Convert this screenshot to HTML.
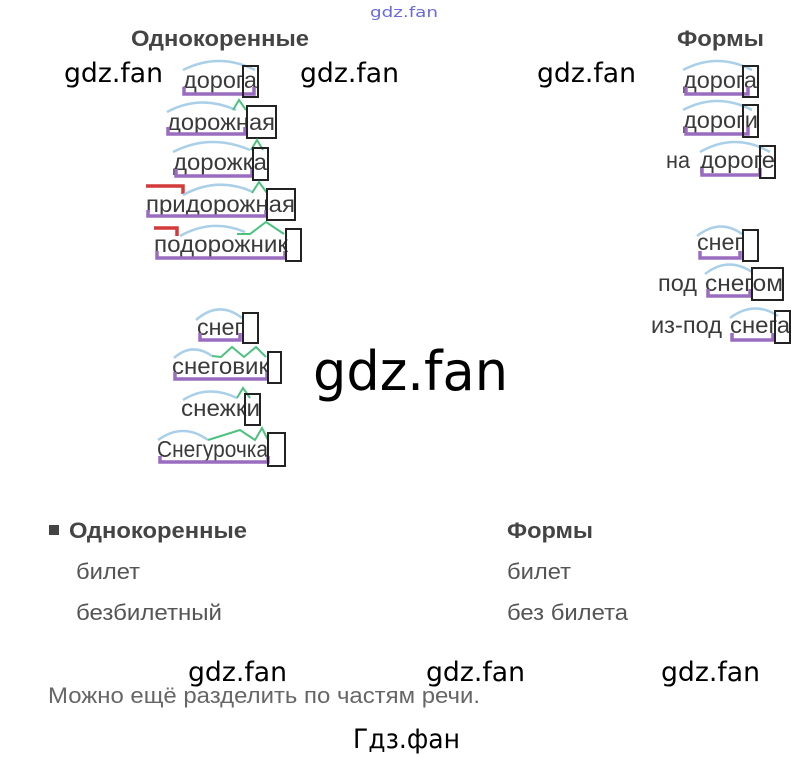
<!DOCTYPE html>
<html><head><meta charset="utf-8"><style>
html,body{margin:0;padding:0;background:#fff;}
svg{display:block}
.w{font-family:"Liberation Sans",sans-serif;font-size:23px;fill:#3a3a3a}
.h{font-family:"Liberation Sans",sans-serif;font-size:22px;font-weight:bold;fill:#444}
.t{font-family:"Liberation Sans",sans-serif;font-size:22px;fill:#555}
.g{font-family:"DejaVu Sans",sans-serif;font-size:27px;fill:#000}
.arc{fill:none;stroke:#a9cfe9;stroke-width:2.5}
.pu{fill:none;stroke:#9a6cbf;stroke-width:3.5}
.gr{fill:none;stroke:#4dc27f;stroke-width:2}
.bx{fill:none;stroke:#222;stroke-width:2}
.rd{fill:none;stroke:#d43a3a;stroke-width:3.5}
</style></head><body>
<svg width="807" height="757" viewBox="0 0 807 757" xmlns="http://www.w3.org/2000/svg">
<text x="370" y="17" style="font-family:'DejaVu Sans',sans-serif;font-size:14px;fill:#6a6ae0" textLength="68" lengthAdjust="spacingAndGlyphs">gdz.fan</text>
<text class="h" x="131" y="46" textLength="178" lengthAdjust="spacingAndGlyphs">Однокоренные</text>
<text class="h" x="677" y="46" textLength="87" lengthAdjust="spacingAndGlyphs">Формы</text>
<text class="g" x="64" y="82" textLength="99" lengthAdjust="spacingAndGlyphs">gdz.fan</text>
<text class="g" x="300" y="82" textLength="99" lengthAdjust="spacingAndGlyphs">gdz.fan</text>
<text class="g" x="537" y="82" textLength="99" lengthAdjust="spacingAndGlyphs">gdz.fan</text>

<!-- left column -->
<path class="arc" d="M183,70 Q219,52 255,70"/>
<text class="w" x="183" y="88" textLength="74" lengthAdjust="spacingAndGlyphs">дорога</text>
<path class="pu" d="M184,87 V94 H254 V87"/>
<rect class="bx" x="243" y="66" width="15" height="31"/>

<path class="arc" d="M167,112 Q200,94 236,110"/>
<path class="gr" d="M233,110 L239,100 L246,110"/>
<text class="w" x="167" y="130" textLength="108" lengthAdjust="spacingAndGlyphs">дорожная</text>
<path class="pu" d="M168,127 V134 H245 V127"/>
<rect class="bx" x="247" y="106" width="29" height="32"/>

<path class="arc" d="M173,152 Q210,133 250,150"/>
<path class="gr" d="M251,150 L257,140 L263,150"/>
<text class="w" x="173" y="170" textLength="94" lengthAdjust="spacingAndGlyphs">дорожка</text>
<path class="pu" d="M176,169 V176 H252 V169"/>
<rect class="bx" x="253" y="148" width="15" height="32"/>

<path class="rd" d="M146,186 H183 V194"/>
<path class="arc" d="M183,195 Q218,176 253,192"/>
<path class="gr" d="M252,193 L259,182 L267,193"/>
<text class="w" x="146" y="212" textLength="149" lengthAdjust="spacingAndGlyphs">придорожная</text>
<path class="pu" d="M148,210 V216 H266 V210"/>
<rect class="bx" x="267" y="189" width="28" height="31"/>

<path class="rd" d="M154,228 H177 V236"/>
<path class="arc" d="M180,236 Q212,218 245,232"/>
<path class="gr" d="M237,234 L250,234 L266,222 L284,234"/>
<text class="w" x="154" y="252" textLength="134" lengthAdjust="spacingAndGlyphs">подорожник</text>
<path class="pu" d="M157,251 V258 H285 V251"/>
<rect class="bx" x="286" y="229" width="15" height="32"/>

<path class="arc" d="M196,320 Q219,300 242,318"/>
<text class="w" x="197" y="335" textLength="46" lengthAdjust="spacingAndGlyphs">снег</text>
<path class="pu" d="M200,333 V340 H240 V333"/>
<rect class="bx" x="243" y="313" width="15" height="30"/>

<path class="arc" d="M174,358 Q192,342 212,356"/>
<path class="gr" d="M212,356 L221,357 L232,347 L244,357 L256,347 L266,357"/>
<text class="w" x="172" y="374" textLength="97" lengthAdjust="spacingAndGlyphs">снеговик</text>
<path class="pu" d="M175,372 V379 H267 V372"/>
<rect class="bx" x="268" y="352" width="13" height="31"/>

<path class="arc" d="M183,400 Q208,384 237,398"/>
<path class="gr" d="M237,398 L243,388 L250,398"/>
<text class="w" x="181" y="416" textLength="79" lengthAdjust="spacingAndGlyphs">снежки</text>
<rect class="bx" x="245" y="394" width="15" height="31"/>

<path class="arc" d="M158,440 Q183,422 208,440"/>
<path class="gr" d="M208,440 L240,430 L255,440 L262,428 L268,440"/>
<text class="w" x="157" y="457" textLength="111" lengthAdjust="spacingAndGlyphs">Снегурочка</text>
<path class="pu" d="M160,456 V462 H268 V456"/>
<rect class="bx" x="268" y="433" width="17" height="33"/>

<text x="313" y="390" style="font-family:'DejaVu Sans',sans-serif;font-size:54px;fill:#000" textLength="195" lengthAdjust="spacingAndGlyphs">gdz.fan</text>

<!-- right column -->
<path class="arc" d="M683,70 Q717,52 752,70"/>
<text class="w" x="683" y="88" textLength="74" lengthAdjust="spacingAndGlyphs">дорога</text>
<path class="pu" d="M686,87 V94 H748 V87"/>
<rect class="bx" x="743" y="66" width="15" height="31"/>

<path class="arc" d="M683,110 Q717,92 752,110"/>
<text class="w" x="683" y="128" textLength="75" lengthAdjust="spacingAndGlyphs">дороги</text>
<path class="pu" d="M686,127 V134 H748 V127"/>
<rect class="bx" x="743" y="105" width="15" height="32"/>

<path class="arc" d="M700,152 Q735,132 770,152"/>
<text class="w" x="666" y="168" textLength="24" lengthAdjust="spacingAndGlyphs">на</text>
<text class="w" x="700" y="168" textLength="75" lengthAdjust="spacingAndGlyphs">дороге</text>
<path class="pu" d="M702,168 V175 H760 V168"/>
<rect class="bx" x="760" y="146" width="15" height="32"/>

<path class="arc" d="M697,236 Q720,218 742,234"/>
<text class="w" x="697" y="250" textLength="46" lengthAdjust="spacingAndGlyphs">снег</text>
<path class="pu" d="M700,251 V258 H740 V251"/>
<rect class="bx" x="743" y="230" width="15" height="31"/>

<path class="arc" d="M705,274 Q728,256 752,272"/>
<text class="w" x="658" y="291" textLength="39" lengthAdjust="spacingAndGlyphs">под</text>
<text class="w" x="705" y="291" textLength="78" lengthAdjust="spacingAndGlyphs">снегом</text>
<path class="pu" d="M708,289 V296 H750 V289"/>
<rect class="bx" x="752" y="268" width="31" height="32"/>

<path class="arc" d="M730,318 Q754,300 778,316"/>
<text class="w" x="651" y="333" textLength="71" lengthAdjust="spacingAndGlyphs">из-под</text>
<text class="w" x="730" y="333" textLength="60" lengthAdjust="spacingAndGlyphs">снега</text>
<path class="pu" d="M732,333 V340 H773 V333"/>
<rect class="bx" x="775" y="311" width="15" height="32"/>

<!-- bottom -->
<rect x="49" y="525" width="10" height="10" fill="#444"/>
<text class="h" x="69" y="538" textLength="178" lengthAdjust="spacingAndGlyphs">Однокоренные</text>
<text class="h" x="507" y="538" textLength="86" lengthAdjust="spacingAndGlyphs">Формы</text>
<text class="t" x="76" y="579" textLength="64" lengthAdjust="spacingAndGlyphs">билет</text>
<text class="t" x="507" y="579" textLength="64" lengthAdjust="spacingAndGlyphs">билет</text>
<text class="t" x="76" y="620" textLength="146" lengthAdjust="spacingAndGlyphs">безбилетный</text>
<text class="t" x="507" y="620" textLength="121" lengthAdjust="spacingAndGlyphs">без билета</text>
<text class="g" x="188" y="681" textLength="99" lengthAdjust="spacingAndGlyphs">gdz.fan</text>
<text class="g" x="426" y="681" textLength="99" lengthAdjust="spacingAndGlyphs">gdz.fan</text>
<text class="g" x="661" y="681" textLength="99" lengthAdjust="spacingAndGlyphs">gdz.fan</text>
<text class="t" x="48" y="703" style="fill:#666" textLength="432" lengthAdjust="spacingAndGlyphs">Можно ещё разделить по частям речи.</text>
<text class="g" x="353" y="748" textLength="107" lengthAdjust="spacingAndGlyphs">Гдз.фан</text>
</svg>
</body></html>
